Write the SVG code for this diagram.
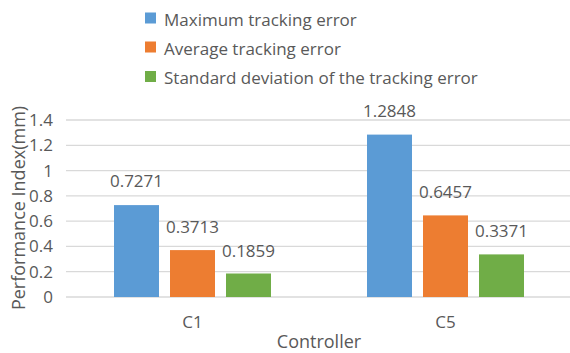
<svg xmlns="http://www.w3.org/2000/svg" width="570" height="353" viewBox="0 0 570 353">
<style>
text{font-family:"Open Sans","Liberation Sans",sans-serif;fill:#595959;font-size:17px}
.grid{stroke:#d9d9d9;stroke-width:1.3}
.tick{text-anchor:end}
.mid{text-anchor:middle}
.title{font-size:18px}
.b{fill:#5b9bd5}.o{fill:#ed7d31}.g{fill:#70ad47}
</style>
<rect width="570" height="353" fill="#ffffff"/>
<g id="gridlines">
<line class="grid" x1="66" y1="120" x2="570" y2="120"/>
<line class="grid" x1="66" y1="145.3" x2="570" y2="145.3"/>
<line class="grid" x1="66" y1="170.6" x2="570" y2="170.6"/>
<line class="grid" x1="66" y1="195.9" x2="570" y2="195.9"/>
<line class="grid" x1="66" y1="221.1" x2="570" y2="221.1"/>
<line class="grid" x1="66" y1="246.4" x2="570" y2="246.4"/>
<line class="grid" x1="66" y1="271.7" x2="570" y2="271.7"/>
<line class="grid" x1="66" y1="297" x2="570" y2="297"/>
</g>
<g id="y-axis">
<text class="tick" x="53" y="126">1.4</text>
<text class="tick" x="53" y="151.3">1.2</text>
<text class="tick" x="53" y="176.6">1</text>
<text class="tick" x="53" y="201.9">0.8</text>
<text class="tick" x="53" y="227.1">0.6</text>
<text class="tick" x="53" y="252.4">0.4</text>
<text class="tick" x="53" y="277.7">0.2</text>
<text class="tick" x="53" y="303">0</text>
<text class="title mid" transform="translate(25,208) rotate(-90)">Performance Index(mm)</text>
</g>
<g id="x-axis">
<text class="mid" x="192.5" y="328">C1</text>
<text class="mid" x="445.5" y="328">C5</text>
<text class="title mid" x="319" y="348">Controller</text>
</g>
<g id="c1">
<rect class="b" x="114" y="205.1" width="45" height="91.9"/>
<rect class="o" x="170" y="250.1" width="45" height="46.9"/>
<rect class="g" x="226" y="273.5" width="45" height="23.5"/>
<text class="mid" x="136.5" y="187">0.7271</text>
<text class="mid" x="192.5" y="233">0.3713</text>
<text class="mid" x="248.5" y="257">0.1859</text>
</g>
<g id="c5">
<rect class="b" x="367" y="134.6" width="45" height="162.4"/>
<rect class="o" x="423" y="215.4" width="45" height="81.6"/>
<rect class="g" x="479" y="254.4" width="45" height="42.6"/>
<text class="mid" x="389.5" y="117">1.2848</text>
<text class="mid" x="445.5" y="198">0.6457</text>
<text class="mid" x="501.5" y="237">0.3371</text>
</g>
<g id="legend">
<rect class="b" x="145" y="12.5" width="11" height="11"/>
<text x="164" y="25.5">Maximum tracking error</text>
<rect class="o" x="145" y="41.5" width="11" height="11"/>
<text x="164" y="54.5">Average tracking error</text>
<rect class="g" x="145" y="71" width="11" height="11"/>
<text x="164" y="84">Standard deviation of the tracking error</text>
</g>
</svg>
